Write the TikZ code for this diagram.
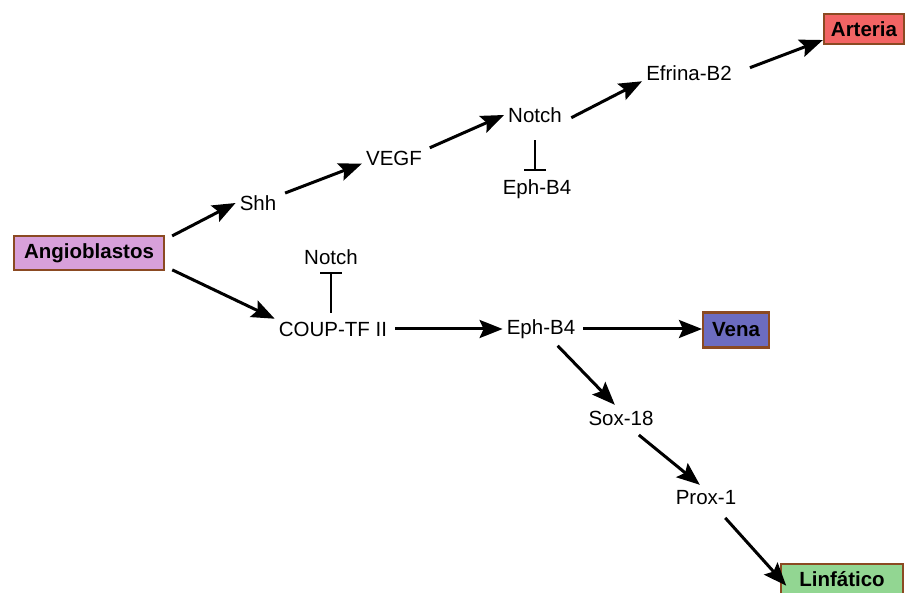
\documentclass[tikz,border=0pt]{standalone}
\usepackage{fontspec}
\setmainfont{Liberation Sans}
\usetikzlibrary{arrows.meta}
\definecolor{brd}{HTML}{8B4A22}
\definecolor{cang}{HTML}{D8A0DA}
\definecolor{cart}{HTML}{F26464}
\definecolor{cven}{HTML}{6C6CC0}
\definecolor{clin}{HTML}{92D692}
\begin{document}
\begin{tikzpicture}[x=1pt,y=-1pt,
  lbl/.style={font=\fontsize{20.5}{24}\selectfont, inner xsep=4pt, inner ysep=0pt, minimum height=26pt},
  boxn/.style={draw=brd, line width=2.2pt, font=\fontsize{20.5}{24}\selectfont\bfseries, inner ysep=0pt},
  act/.style={line width=3pt, -{Stealth[length=23pt,width=18pt,inset=4pt]}},
  inh/.style={line width=2pt, -{Bar[width=22pt,line width=2pt]}}]
\useasboundingbox (0,0) rectangle (907,593);
\fill[white] (0,0) rectangle (907,593);
% boxes
\node[boxn, fill=cang, minimum height=34pt, inner xsep=10pt] (ang) at (89,253) {Angioblastos};
\node[boxn, fill=cart, minimum height=30pt, inner xsep=7pt] (art) at (864,29) {Arteria};
\node[boxn, fill=cven, minimum height=35pt, inner xsep=9pt] (ven) at (736,330) {Vena};
\node[boxn, fill=clin, minimum height=30pt, inner xsep=18pt] (lin) at (842,579) {Linfático};
% labels
\node[lbl] (shh) at (258,203) {Shh};
\node[lbl] (vegf) at (394,158) {VEGF};
\node[lbl] (notchA) at (535,115) {Notch};
\node[lbl] (ephT) at (537,189) {Eph-B4};
\node[lbl] (efr) at (689,73) {Efrina-B2};
\node[lbl] (notchB) at (331,257) {Notch};
\node[lbl] (coup) at (333,329) {COUP-TF II};
\node[lbl] (ephM) at (541,329) {Eph-B4};
\node[lbl] (sox) at (621,418) {Sox-18};
\node[lbl] (prox) at (706,498) {Prox-1};
% arrows
\draw[act, shorten <=8pt] (ang.10) -- (shh.west);
\draw[act, shorten <=8pt] (ang.-10) -- (coup.170);
\draw[act, shorten <=5pt] (shh.20) -- (vegf.190);
\draw[act, shorten <=4pt] (vegf.15) -- (notchA.west);
\draw[act, shorten <=6pt] (notchA.-10) -- (efr.190);
\draw[act, shorten <=15pt] (efr.east) -- (art.195);
\draw[act, shorten <=4pt] (coup.east) -- (ephM.west);
\draw[act, shorten <=4pt] (ephM.east) -- (ephM.east -| ven.west);
\draw[act, shorten <=5pt] (ephM.-45) -- (sox.115);
\draw[act, shorten <=6pt] (sox.-45) -- (prox.115);
\draw[act, shorten <=9pt, shorten >=-9pt] (prox.-45) -- (lin.west);
% inhibitions
\draw[inh, shorten <=12pt, shorten >=5pt] (notchA.south) -- (notchA.south |- ephT.north);
\draw[inh, shorten <=3pt, shorten >=2pt] (coup.north -| notchB.south) -- (notchB.south);
\end{tikzpicture}
\end{document}
